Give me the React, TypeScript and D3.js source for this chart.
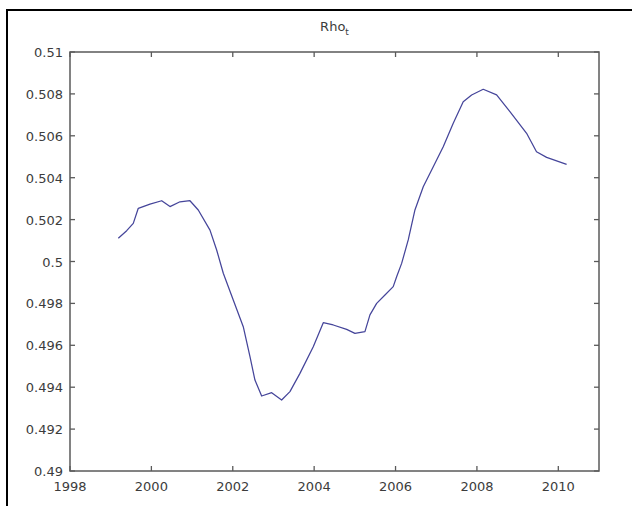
import React from "react";
import * as d3 from "d3";

const years = [
  1999.187, 1999.393, 1999.555, 1999.678, 1999.966, 2000.253, 2000.457, 2000.703, 2000.948,
  2001.152, 2001.44, 2001.604, 2001.767, 2002.012, 2002.258, 2002.423, 2002.545, 2002.71,
  2002.956, 2003.201, 2003.405, 2003.651, 2003.978, 2004.224, 2004.469, 2004.799, 2005.002,
  2005.248, 2005.371, 2005.536, 2005.74, 2005.943, 2006.027, 2006.15, 2006.312, 2006.477,
  2006.681, 2006.927, 2007.172, 2007.418, 2007.663, 2007.87, 2008.155, 2008.484, 2008.811,
  2009.221, 2009.464, 2009.713, 2010.204,
];
const rho = [
  0.50111, 0.50147, 0.50182, 0.50254, 0.50274, 0.5029, 0.50262, 0.50285, 0.5029,
  0.50246, 0.5015, 0.50055, 0.49944, 0.49816, 0.49689, 0.49546, 0.49434, 0.49358,
  0.49374, 0.49339, 0.49379, 0.49466, 0.49593, 0.49708, 0.49697, 0.49676, 0.49657,
  0.49665, 0.49745, 0.498, 0.4984, 0.4988, 0.49927, 0.49991, 0.50103, 0.50246,
  0.50357, 0.50452, 0.50548, 0.5066, 0.50763, 0.50795, 0.50822, 0.50795, 0.50715,
  0.50612, 0.50524, 0.50497, 0.50464,
];
const xTicks = [1998, 2000, 2002, 2004, 2006, 2008, 2010];
const yTicks = [0.49, 0.492, 0.494, 0.496, 0.498, 0.5, 0.502, 0.504, 0.506, 0.508, 0.51];
const xDomain = [1998, 2011];
const yDomain = [0.49, 0.51];
const titleMain = "Rho";
const titleSub = "t";

export default function App() {
  const W = 632, H = 506;
  const left = 70, right = 599, top = 52, bottom = 471;
  const x = d3.scaleLinear().domain(xDomain).range([left, right]);
  const y = d3.scaleLinear().domain(yDomain).range([bottom, top]);
  const line = d3.line<number>().x((_, i) => x(years[i])).y((d) => y(d));
  const fmtY = (v: number) => d3.format("~g")(+v.toFixed(3));
  const tick = 5;
  const axisColor = "#5a5a5a";
  const textColor = "#3c3c3c";
  const font = "'DejaVu Sans', sans-serif";
  const fs = 13;
  return (
    <svg width={W} height={H} style={{ position: "absolute", left: 0, top: 0, background: "#fff" }}>
      <rect x={0} y={0} width={W} height={H} fill="#fff" />
      <rect x={7} y={10} width={W + 20} height={H + 20} fill="#fff" stroke="#000" strokeWidth={2} />
      <text x={(left + right) / 2} y={31} textAnchor="middle" fontFamily={font} fontSize={fs} fill={textColor}>
        {titleMain}
        <tspan fontSize={9} dy={4}>{titleSub}</tspan>
      </text>
      <path d={line(rho) || ""} fill="none" stroke="#45459a" strokeWidth={1.25} strokeLinejoin="round" />
      <rect x={left} y={top} width={right - left} height={bottom - top} fill="none" stroke={axisColor} strokeWidth={1.5} />
      {xTicks.map((t) => (
        <g key={"x" + t}>
          <line x1={x(t)} x2={x(t)} y1={bottom} y2={bottom - tick} stroke={axisColor} strokeWidth={1.3} />
          <line x1={x(t)} x2={x(t)} y1={top} y2={top + tick} stroke={axisColor} strokeWidth={1.3} />
          <text x={x(t)} y={bottom + 20} textAnchor="middle" fontFamily={font} fontSize={fs} fill={textColor}>
            {t}
          </text>
        </g>
      ))}
      {yTicks.map((t) => (
        <g key={"y" + t}>
          <line x1={left} x2={left + tick} y1={y(t)} y2={y(t)} stroke={axisColor} strokeWidth={1.3} />
          <line x1={right} x2={right - tick} y1={y(t)} y2={y(t)} stroke={axisColor} strokeWidth={1.3} />
          <text x={left - 7} y={y(t) + 5} textAnchor="end" fontFamily={font} fontSize={fs} fill={textColor}>
            {fmtY(t)}
          </text>
        </g>
      ))}
    </svg>
  );
}
